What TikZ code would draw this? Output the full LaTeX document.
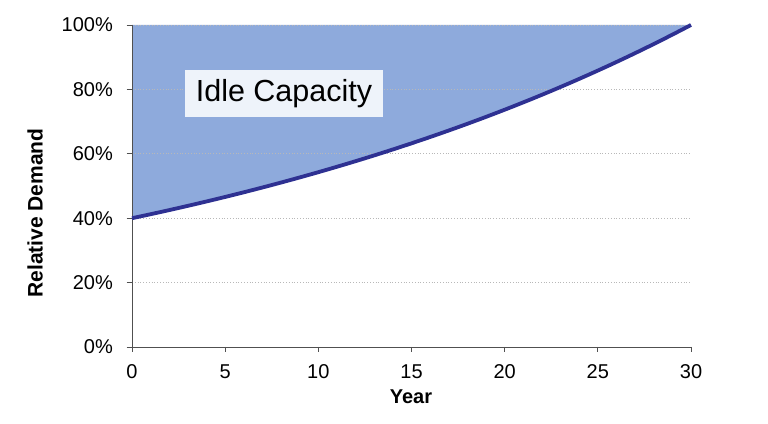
\documentclass[tikz,border=0pt]{standalone}
\usepackage{fontspec}
\setmainfont{Liberation Sans}
\definecolor{curveblue}{RGB}{46,49,146}
\definecolor{idleblue}{RGB}{142,170,220}
\definecolor{boxfill}{RGB}{238,243,250}
\definecolor{axisgray}{RGB}{80,80,80}
\begin{document}
\begin{tikzpicture}[x=1pt,y=1pt]
\tikzset{
  ticklab/.style={font=\fontsize{20}{22}\selectfont, text=black, inner sep=0pt},
  axtitle/.style={font=\bfseries\fontsize{20}{22}\selectfont, text=black, inner sep=0pt},
  ytitle/.style={font=\bfseries\fontsize{21}{23}\selectfont, text=black, inner sep=0pt},
  gridline/.style={draw=black!28, dotted, line width=0.8pt},
  axisline/.style={draw=axisgray, line width=0.9pt},
  curveline/.style={draw=curveblue, line width=3.8pt},
  idlearea/.style={fill=idleblue},
  idlelabel/.style={fill=boxfill, minimum width=198pt, minimum height=47pt, inner sep=0pt,
     font=\fontsize{30.5}{32}\selectfont, text=black},
}
\useasboundingbox (0,0) rectangle (768,423);
% axes coordinates
\coordinate (O) at (132,76);
\coordinate (T) at (132,398);
\coordinate (R) at (691,76);
% idle capacity area
\fill[idlearea] (132,204.8) -- plot[domain=0:30,samples=61] ({132+18.6333*\x},{76+128.8*exp(0.030543*\x)}) -- (132,398) -- cycle;
% grid lines
\foreach \i in {1,...,5} {
  \draw[gridline] (132,{76+64.4*\i}) -- (691,{76+64.4*\i});
}
% axes
\draw[axisline] (T) -- (O) -- (R);
% y ticks and labels
\foreach \i/\lab in {0/0,1/20,2/40,3/60,4/80,5/100} {
  \draw[axisline] (126.5,{76+64.4*\i}) -- (132,{76+64.4*\i});
  \node[ticklab, anchor=east] (yl\i) at (113,{76+64.4*\i}) {\lab\%};
}
% x ticks and labels
\foreach \i/\lab in {0/0,1/5,2/10,3/15,4/20,5/25,6/30} {
  \draw[axisline] ({132+93.1667*\i},76) -- ({132+93.1667*\i},70.5);
  \node[ticklab] (xl\i) at ({132+93.1667*\i},51) {\lab};
}
% demand curve
\draw[curveline] plot[domain=0:30,samples=61] ({132+18.6333*\x},{76+128.8*exp(0.030543*\x)});
% label
\node[idlelabel] (idle) at (284,329.5) {Idle Capacity};
% axis titles
\node[axtitle] (xt) at (411,26) {Year};
\node[ytitle, rotate=90] (yt) at (35,210) {Relative Demand};
\end{tikzpicture}
\end{document}
